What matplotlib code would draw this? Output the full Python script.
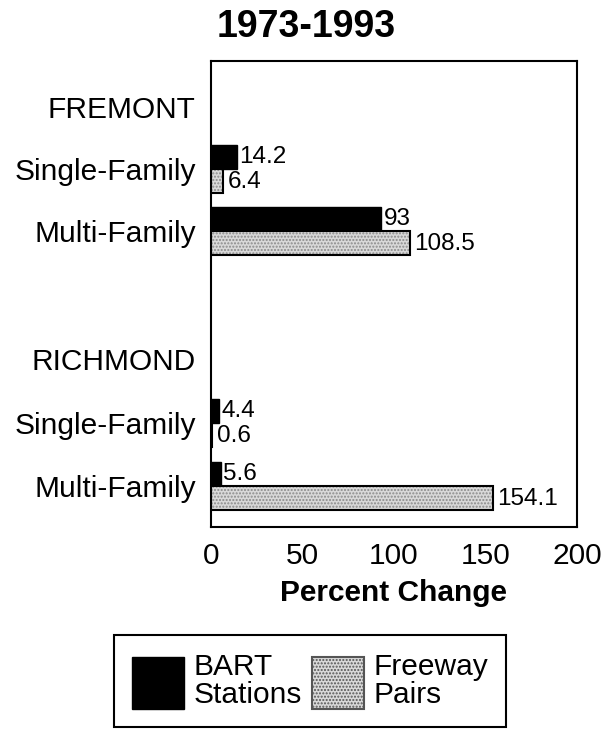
import matplotlib
matplotlib.use("Agg")
import matplotlib.pyplot as plt
from matplotlib.patches import Patch

plt.rcParams['font.family'] = ['Liberation Sans', 'DejaVu Sans']

# data
row_labels = ['FREMONT', 'Single-Family', 'Multi-Family',
              'RICHMOND', 'Single-Family', 'Multi-Family']
bar_rows = [1, 2, 4, 5]          # rows of row_labels that carry bars
bart = [14.2, 93, 4.4, 5.6]
freeway = [6.4, 108.5, 0.6, 154.1]
bart_txt = ['14.2', '93', '4.4', '5.6']
freeway_txt = ['6.4', '108.5', '0.6', '154.1']
xticks = [0, 50, 100, 150, 200]

# layout (vertical position of each row, top of axes = 0)
row_pos = [46, 108, 170, 298, 362, 425]
bh = 24
grey = '#d9d9d9'

fig = plt.figure(figsize=(6.13, 7.36), dpi=100)
ax = fig.add_axes([211 / 613, 1 - 527 / 736, 366 / 613, 466 / 736])

for i, r in enumerate(bar_rows):
    y = row_pos[r]
    ax.barh(y - bh / 2, bart[i], height=bh, color='black', edgecolor='black', lw=1)
    ax.barh(y + bh / 2, freeway[i], height=bh, color=grey, edgecolor='#8a8a8a',
            hatch='.....', lw=0)
    ax.barh(y + bh / 2, freeway[i], height=bh, fill=False, edgecolor='black', lw=1.5)
    ax.text(bart[i] + 1.2, y - bh / 2, bart_txt[i], va='center', ha='left', fontsize=17.5)
    ax.text(freeway[i] + 2.5, y + bh / 2 + 1, freeway_txt[i], va='center', ha='left',
            fontsize=17.5)

ax.set_xlim(0, 200)
ax.set_ylim(466, 0)
ax.set_xticks(xticks)
ax.set_xticklabels([str(t) for t in xticks], fontsize=21.5)
ax.set_yticks(row_pos)
ax.set_yticklabels(row_labels, fontsize=21.5)
ax.tick_params(axis='both', length=0)
ax.tick_params(axis='x', pad=11)
ax.tick_params(axis='y', pad=11)
for s in ax.spines.values():
    s.set_linewidth(1.5)

ax.set_xlabel('Percent Change', fontsize=21.5, fontweight='bold', labelpad=6)
fig.text(306 / 613, 1 - 27 / 736, '1973-1993', ha='center', va='center',
         fontsize=27, fontweight='bold')

handles = [Patch(facecolor='black', edgecolor='black'),
           Patch(facecolor=grey, edgecolor='#555555', hatch='.....', lw=1.5)]
leg = fig.legend(handles, ['BART\nStations', 'Freeway\nPairs'], ncol=2,
                 loc='center', bbox_to_anchor=(310 / 613, 1 - 681 / 736),
                 fontsize=21.5, handlelength=1.75, handleheight=2.3,
                 handletextpad=0.3, columnspacing=0.35, borderpad=0.6,
                 fancybox=False, framealpha=1)
leg.get_frame().set_edgecolor('black')
leg.get_frame().set_linewidth(1.5)
for t in leg.get_texts():
    t.set_linespacing(1.0)

fig.savefig('out.png', dpi=100)
